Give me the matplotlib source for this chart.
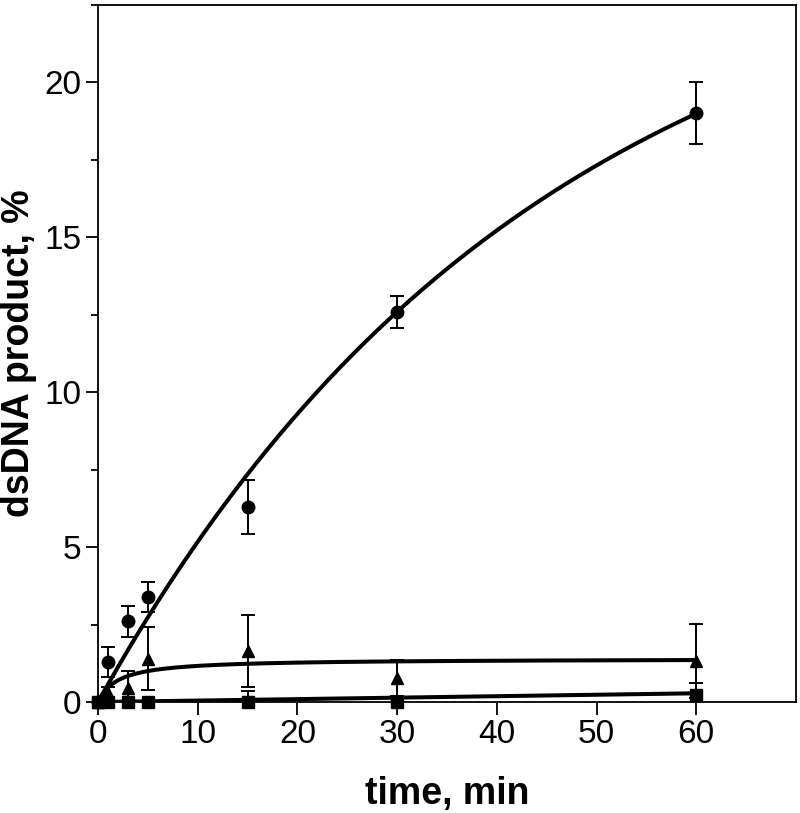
import matplotlib
matplotlib.use("Agg")
import matplotlib.pyplot as plt
from matplotlib.ticker import MultipleLocator
import numpy as np

plt.rcParams['font.family'] = ['Liberation Sans', 'DejaVu Sans']

# Time points (min)
time_min = [0, 1, 3, 5, 15, 30, 60]

# dsDNA product (%) with error bars
circle_y = [0, 1.3, 2.6, 3.4, 6.3, 12.6, 19.0]
circle_err = [0, 0.48, 0.5, 0.48, 0.88, 0.52, 1.0]
triangle_y = [0, 0.3, 0.45, 1.4, 1.65, 0.77, 1.33]
triangle_err = [0, 0.2, 0.55, 1.01, 1.15, 0.58, 1.2]
square_y = [0, 0, 0, 0, 0, 0, 0.22]
square_err = [0, 0, 0, 0, 0.36, 0.1, 0.4]

# Fitted curve parameters (estimated from the drawn curves)
circle_amp, circle_k = 25.6, 0.02258      # A*(1-exp(-k t))
triangle_max, triangle_half = 1.4, 2.0    # Bmax*t/(K+t)
square_slope = 0.0047                     # linear

fig = plt.figure(figsize=(8, 8.13), dpi=100)
ax = fig.add_axes([0.1225, 0.1365, 0.8725, 0.8573])

t = np.linspace(0, 60, 400)
ax.plot(t, circle_amp * (1 - np.exp(-circle_k * t)), color='black', lw=2.9, zorder=2)
ax.plot(t, triangle_max * t / (triangle_half + t), color='black', lw=2.9, zorder=2)
ax.plot(t, square_slope * t, color='black', lw=2.9, zorder=2)

series = [
    (circle_y, circle_err, 'o', 9),
    (triangle_y, triangle_err, '^', 9),
    (square_y, square_err, 's', 8.5),
]
for yv, ev, mk, ms in series:
    ax.errorbar(time_min, yv, yerr=ev, fmt='none', ecolor='black',
                elinewidth=1.4, capsize=5, capthick=1.4, zorder=3)
    ax.plot(time_min, yv, linestyle='none', marker=mk, ms=ms, color='black',
            zorder=4, clip_on=False)

ax.set_xlim(0, 70)
ax.set_ylim(0, 22.5)
ax.set_xticks(range(0, 61, 10))
ax.yaxis.set_minor_locator(MultipleLocator(2.5))
ax.set_yticks([0, 5, 10, 15, 20])

ax.tick_params(axis='both', which='major', direction='out', length=9, width=1.3,
               labelsize=24, pad=3)
ax.tick_params(axis='y', which='minor', direction='out', length=5, width=1.3)
for s in ax.spines.values():
    s.set_linewidth(1.3)

ax.set_xlabel('time, min', fontsize=27, fontweight='bold')
ax.set_ylabel('dsDNA product, %', fontsize=27, fontweight='bold')
ax.xaxis.set_label_coords(0.5, -0.106)
ax.yaxis.set_label_coords(-0.088, 0.5)

fig.savefig('out.png', dpi=100)
